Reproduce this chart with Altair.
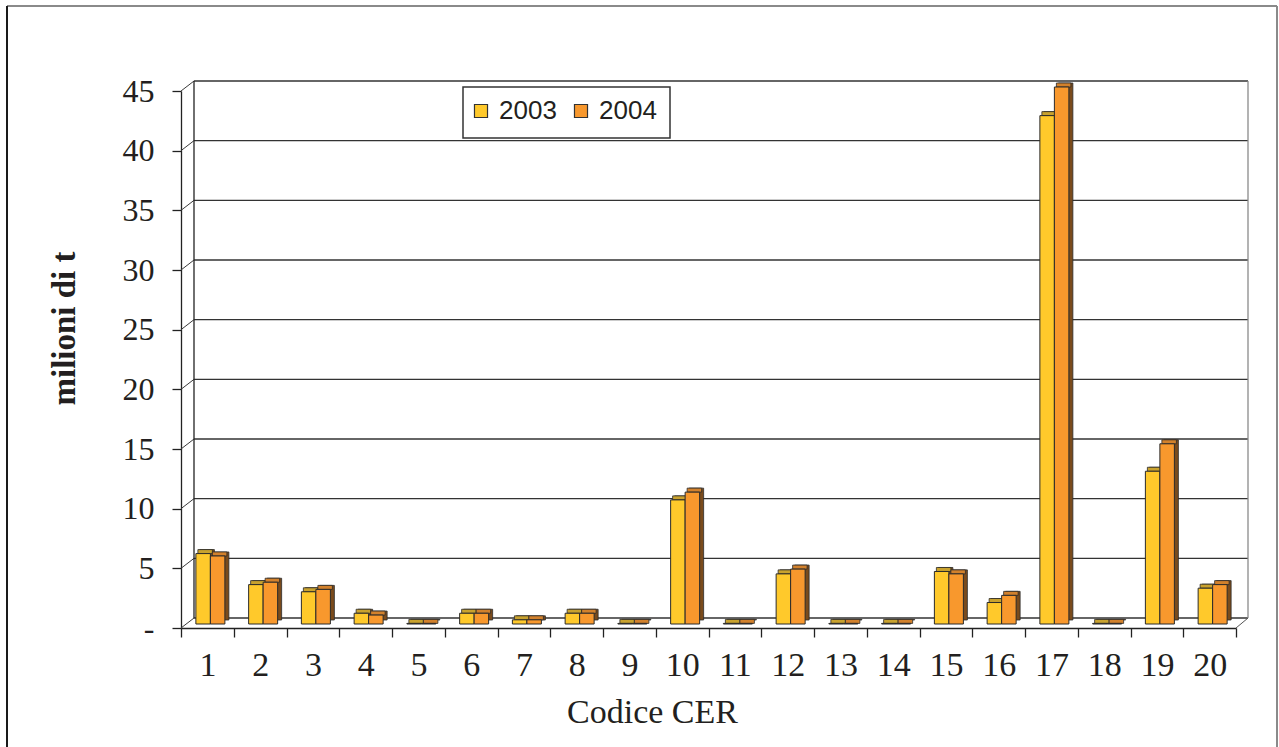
import altair as alt
import pandas as pd

# Waste production by CER code (million tonnes), 2003 vs 2004
codes = [str(i) for i in range(1, 21)]
vals_2003 = [5.9, 3.3, 2.7, 0.9, 0.05, 0.9, 0.35, 0.9, 0.05, 10.4,
             0.05, 4.2, 0.05, 0.05, 4.4, 1.8, 42.6, 0.05, 12.8, 3.0]
vals_2004 = [5.7, 3.5, 2.9, 0.75, 0.05, 0.9, 0.35, 0.9, 0.05, 11.05,
             0.05, 4.6, 0.05, 0.05, 4.2, 2.4, 45.0, 0.05, 15.1, 3.3]
years = ["2003", "2004"]
y_ticks = [0, 5, 10, 15, 20, 25, 30, 35, 40, 45]

rows = []
for c, a, b in zip(codes, vals_2003, vals_2004):
    rows.append({"code": c, "year": years[0], "val": a})
    rows.append({"code": c, "year": years[1], "val": b})
bars = pd.DataFrame(rows)
grid = pd.DataFrame({"v": y_ticks})
edge = pd.DataFrame({"lo": [min(y_ticks)], "hi": [max(y_ticks)]})

W, H = 1067, 537          # plot area (front axis + back-wall depth)
FRONT_W = 1055            # length of the front x axis
DX, DY = 13, -10          # depth offset of the back wall
BAR_W = 14.5              # width of one bar's front face
MID_X, MID_Y = 3, -4      # bars stand half way into the depth
EXT = 4                   # extrusion of each bar

SERIF = "Liberation Serif"
SANS = "Liberation Sans"
INK = "#231f20"

front_cols = ["#ffc92b", "#f8982d"]
top_cols = ["#c9a22e", "#d2812c"]
side_col = "#7a4b1c"

yscale = alt.Scale(domain=[0, 45], nice=False, zero=True)
xscale = alt.Scale(range=[0, FRONT_W], paddingInner=0, paddingOuter=0)

y_axis = alt.Axis(title="milioni di t", values=y_ticks, grid=False,
                  labelExpr="datum.value == 0 ? '-' : datum.label",
                  domainColor="#222", domainWidth=1.3,
                  tickColor="#222", tickWidth=1.3, tickSize=9,
                  labelFont=SERIF, labelFontSize=32, labelColor=INK,
                  labelPadding=18,
                  titleFont=SERIF, titleFontSize=33, titleFontWeight="bold",
                  titleColor=INK, titleAngle=-90, titleX=-117, titleY=237,
                  titleBaseline="middle", titleAlign="center")
x_axis = alt.Axis(title="Codice CER", labelAngle=0, tickBand="extent",
                  domainColor="#222", domainWidth=1.3,
                  tickColor="#222", tickWidth=1.3, tickSize=9,
                  labelFont=SERIF, labelFontSize=34, labelColor=INK,
                  labelPadding=11,
                  titleFont=SERIF, titleFontSize=34, titleFontWeight="normal",
                  titleColor=INK, titleX=471, titleY=84,
                  titleBaseline="middle", titleAlign="center")


def yq(field):
    return alt.Y(field, type="quantitative", scale=yscale, axis=y_axis)


x_enc = alt.X("code:N", sort=codes, scale=xscale, axis=x_axis)

# back wall: horizontal grid lines
back_grid = alt.Chart(grid).mark_rule(color="#333", strokeWidth=1.4, yOffset=DY).encode(
    y=yq("v"), x=alt.value(DX), x2=alt.value(W),
)
# left wall: diagonal links from the front ticks to the back wall
left_diag = alt.Chart(grid).mark_rule(color="#3a3a3a", strokeWidth=1, y2Offset=DY).encode(
    y=yq("v"), y2="v:Q", x=alt.value(0), x2=alt.value(DX),
)
left_edge = alt.Chart(edge).mark_rule(color="#222", strokeWidth=1.3, yOffset=DY, y2Offset=DY).encode(
    y=yq("lo"), y2="hi:Q", x=alt.value(DX),
)
right_edge = alt.Chart(edge).mark_rule(color="#8a8a8a", strokeWidth=1.3, yOffset=DY, y2Offset=DY).encode(
    y=yq("lo"), y2="hi:Q", x=alt.value(W),
)
floor_diag = alt.Chart(edge).mark_rule(color="#555", strokeWidth=1, y2Offset=DY).encode(
    y=yq("lo"), y2="lo:Q", x=alt.value(FRONT_W), x2=alt.value(W),
)

# legend frame, drawn behind the legend entries
legend_box = alt.Chart(edge).mark_rect(fill="white", stroke="#333", strokeWidth=1.5).encode(
    x=alt.value(282), x2=alt.value(489), y=alt.value(-4), y2=alt.value(47),
)
legend = alt.Legend(title=None, orient="none", legendX=287, legendY=7,
                    direction="horizontal", symbolType="square",
                    symbolSize=170, symbolStrokeColor="#333",
                    symbolStrokeWidth=1.2,
                    labelFont=SANS, labelFontSize=26, labelColor=INK,
                    labelOffset=5, columnPadding=11,
                    padding=0)
color_enc = alt.Color("year:N", scale=alt.Scale(domain=years, range=front_cols), legend=legend)

# 3-D bar pieces per year: side (extrusion), top face, front face
sides, tops, fronts = [], [], []
for i, yr in enumerate(years):
    cx = MID_X + (i - 0.5) * BAR_W
    base = alt.Chart(bars).transform_filter(alt.datum.year == yr)
    sides.append(base.mark_bar(width=BAR_W, xOffset=cx + EXT, yOffset=MID_Y - EXT,
                               y2Offset=MID_Y, color=side_col,
                               stroke="#2b2b2b", strokeWidth=0.8).encode(
        x=x_enc, y=yq("val")))
    tops.append(base.mark_bar(width=BAR_W, xOffset=cx + EXT / 2, yOffset=MID_Y - EXT,
                              y2Offset=MID_Y, color=top_cols[i],
                              stroke="#2b2b2b", strokeWidth=0.8).encode(
        x=x_enc, y=yq("val"), y2="val:Q"))
    fronts.append(base.mark_bar(width=BAR_W, xOffset=cx, yOffset=MID_Y, y2Offset=MID_Y,
                                stroke="#2b2b2b", strokeWidth=1).encode(
        x=x_enc, y=yq("val"), color=color_enc))

# outer frame
frame_top = alt.Chart(edge).mark_rule(color="#8a8a8a", strokeWidth=2).encode(
    x=alt.value(-174), x2=alt.value(1096), y=alt.value(-85))
frame_left = alt.Chart(edge).mark_rule(color="#1a1a1a", strokeWidth=2).encode(
    x=alt.value(-174), y=alt.value(-85), y2=alt.value(700))
frame_right = alt.Chart(edge).mark_rule(color="#8a8a8a", strokeWidth=2).encode(
    x=alt.value(1096), y=alt.value(-85), y2=alt.value(700))

chart = alt.layer(
    back_grid, left_diag, left_edge, right_edge, floor_diag, legend_box,
    *sides, *tops, *fronts, frame_top, frame_left, frame_right,
).properties(
    width=W, height=H,
    autosize=alt.AutoSizeParams(type="none"),
    padding={"left": 181, "top": 91, "right": 31, "bottom": 119},
    background="white",
).configure_view(stroke=None)

chart.save("out.html", embed_options={"renderer": "svg", "actions": False})
